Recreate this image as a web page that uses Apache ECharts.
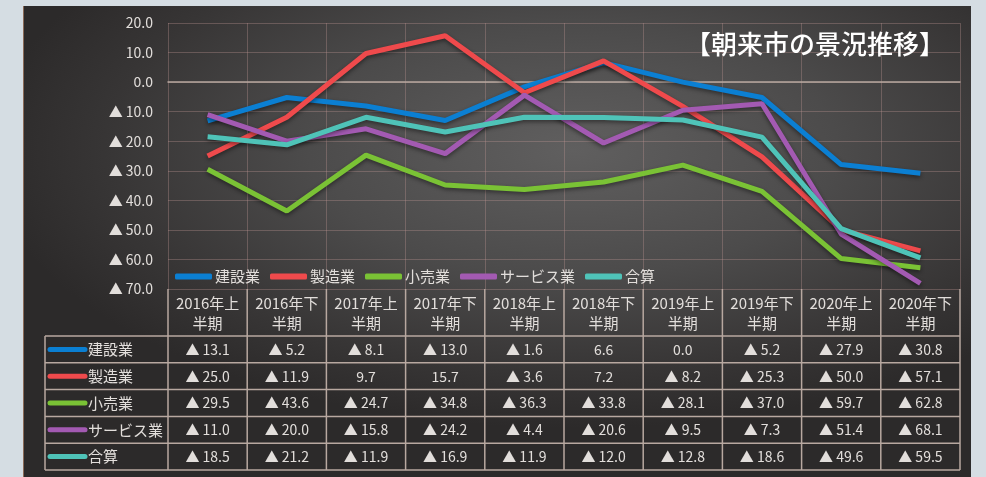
<!DOCTYPE html>
<html>
<head>
<meta charset="utf-8">
<script src="https://cdn.jsdelivr.net/npm/echarts@6/dist/echarts.min.js"></script>
<style>
  html, body { margin: 0; padding: 0; background: #d5dde3; }
  #panel {
    position: absolute; left: 23px; top: 6px; width: 947px; height: 480px;
    background: radial-gradient(ellipse 62% 58% at 58% 30%, #605f5f 0%, #4c4b4b 45%, #373535 80%, #2c2a2a 100%);
    border-left: 1px solid #8a6a58;
  }
  #chart { position: absolute; left: 0; top: 0; width: 986px; height: 477px; }
</style>
</head>
<body>
<div id="panel"></div>
<div id="chart"></div>
<script>
  // 期間
  var periods = ['2016年上\n半期', '2016年下\n半期', '2017年上\n半期', '2017年下\n半期', '2018年上\n半期',
                 '2018年下\n半期', '2019年上\n半期', '2019年下\n半期', '2020年上\n半期', '2020年下\n半期'];
  // 業種別 景況（▲はマイナス）
  var kensetsu = [-13.1, -5.2, -8.1, -13.0, -1.6, 6.6, 0.0, -5.2, -27.9, -30.8];
  var seizou   = [-25.0, -11.9, 9.7, 15.7, -3.6, 7.2, -8.2, -25.3, -50.0, -57.1];
  var kouri    = [-29.5, -43.6, -24.7, -34.8, -36.3, -33.8, -28.1, -37.0, -59.7, -62.8];
  var service  = [-11.0, -20.0, -15.8, -24.2, -4.4, -20.6, -9.5, -7.3, -51.4, -68.1];
  var gousan   = [-18.5, -21.2, -11.9, -16.9, -11.9, -12.0, -12.8, -18.6, -49.6, -59.5];

  var names  = ['建設業', '製造業', '小売業', 'サービス業', '合算'];
  var values = [kensetsu, seizou, kouri, service, gousan];
  var colors = ['#0b7fd2', '#ef4a4c', '#7ac235', '#a35ab2', '#4fc3b8'];

  var titleText = '【朝来市の景況推移】';

  function fmt(v) {
    return v < 0 ? '▲ ' + Math.abs(v).toFixed(1) : v.toFixed(1);
  }

  var font = '"Noto Sans CJK JP", "Noto Sans", sans-serif';
  var txtColor = '#e2dedb';
  var tableLine = '#b8a8a0';

  var chart = echarts.init(document.getElementById('chart'));

  var series = names.map(function (n, i) {
    return {
      name: n,
      type: 'line',
      data: values[i],
      symbol: 'none',
      lineStyle: { width: 5, color: colors[i], shadowColor: 'rgba(0,0,0,0.45)', shadowBlur: 4, shadowOffsetY: 2 },
      itemStyle: { color: colors[i] },
      z: 3
    };
  });

  var option = {
    backgroundColor: 'transparent',
    animation: false,
    textStyle: { fontFamily: font },
    title: {
      text: titleText,
      right: 36, top: 26,
      textStyle: { color: '#ffffff', fontSize: 26, fontWeight: 500, fontFamily: font }
    },
    legend: {
      data: names,
      left: 170, top: 264,
      icon: 'roundRect',
      itemWidth: 37, itemHeight: 6,
      itemGap: 10,
      textStyle: { color: txtColor, fontSize: 15, padding: [0, 0, 0, -2] }
    },
    grid: { left: 168, right: 26, top: 23, bottom: 188 },
    xAxis: {
      type: 'category',
      data: periods,
      boundaryGap: true,
      axisLine: { show: true, lineStyle: { color: tableLine, width: 1.5 } },
      axisTick: { show: false },
      axisLabel: { color: txtColor, fontSize: 15, lineHeight: 20, margin: 4, interval: 0 },
      splitLine: { show: true, lineStyle: { color: 'rgba(190,150,145,0.35)', width: 1 } }
    },
    yAxis: {
      type: 'value',
      min: -70, max: 20, interval: 10,
      axisLine: { show: false },
      axisTick: { show: false },
      axisLabel: { color: txtColor, fontSize: 14, margin: 15, formatter: fmt },
      splitLine: { lineStyle: { color: 'rgba(190,150,145,0.35)', width: 1 } }
    },
    series: series
  };

  chart.setOption(option);

  // データ表（凡例付き）
  var tableTop = 289, headBottom = 336, rowH = 26.8, tableLeft = 45;
  var nCol = periods.length;
  var colX = [];
  for (var c = 0; c <= nCol; c++) {
    colX.push(168 + (960 - 168) * c / nCol);
  }
  var tableBottom = headBottom + rowH * names.length;
  var g = [];
  var lineStyle = { stroke: tableLine, lineWidth: 1.5 };
  // 縦線
  colX.forEach(function (x) {
    g.push({ type: 'line', shape: { x1: x, y1: tableTop, x2: x, y2: tableBottom }, style: lineStyle, silent: true });
  });
  g.push({ type: 'line', shape: { x1: tableLeft, y1: headBottom, x2: tableLeft, y2: tableBottom }, style: lineStyle, silent: true });
  // 横線
  for (var r = 0; r <= names.length; r++) {
    var y = headBottom + rowH * r;
    g.push({ type: 'line', shape: { x1: tableLeft, y1: y, x2: colX[nCol], y2: y }, style: lineStyle, silent: true });
  }
  names.forEach(function (n, i) {
    var yc = headBottom + rowH * (i + 0.5);
    g.push({ type: 'line', shape: { x1: 50, y1: yc, x2: 85, y2: yc },
             style: { stroke: colors[i], lineWidth: 5, lineCap: 'round' }, silent: true });
    g.push({ type: 'text', x: 88, y: yc,
             style: { text: n, fill: txtColor, font: '15px ' + font, verticalAlign: 'middle', align: 'left' }, silent: true });
    values[i].forEach(function (v, j) {
      var xc = chart.convertToPixel({ xAxisIndex: 0 }, j);
      g.push({ type: 'text', x: xc, y: yc,
               style: { text: fmt(v), fill: txtColor, font: '14px ' + font, verticalAlign: 'middle', align: 'center' }, silent: true });
    });
  });
  chart.setOption({ graphic: { elements: g } });
</script>
</body>
</html>
